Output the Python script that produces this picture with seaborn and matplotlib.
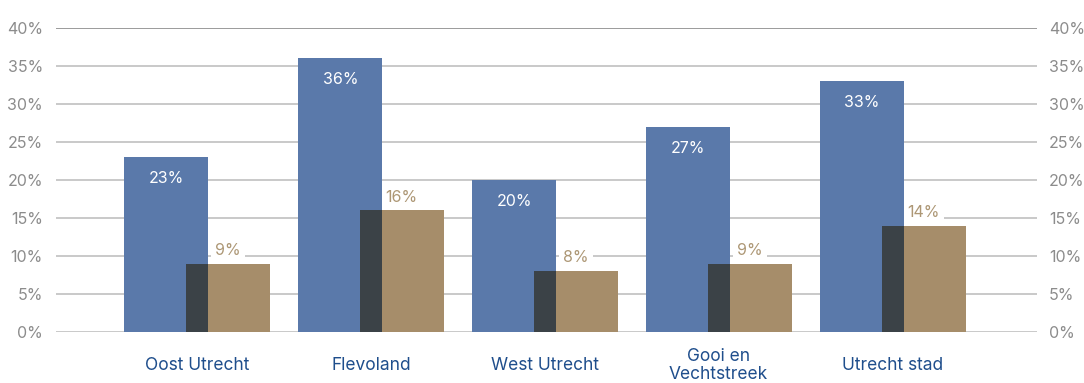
import pandas as pd
import matplotlib.pyplot as plt
import seaborn as sns

# data
regions = ['Oost Utrecht', 'Flevoland', 'West Utrecht', 'Gooi en\nVechtstreek', 'Utrecht stad']
share_a = [23, 36, 20, 27, 33]
share_b = [9, 16, 8, 9, 14]
yticks = [0, 5, 10, 15, 20, 25, 30, 35, 40]

blue = '#5a79aa'
tan = '#a68d6a'
dark = '#3b4247'

sns.set_style('white')
plt.rcParams['font.family'] = ['Inter', 'DejaVu Sans']

df = pd.DataFrame({'region': regions, 'a': share_a, 'b': share_b})

fig = plt.figure(figsize=(10.84, 3.83), dpi=100)
ax = fig.add_axes([0.0517, 0.1332, 0.9049, 0.7937])

bw = 0.483
off_a = -0.175
off_b = 0.178

sns.barplot(data=df, x='region', y='a', color=blue, width=bw, saturation=1, ax=ax,
            zorder=2, linewidth=0)
n = len(ax.patches)
for p in ax.patches[:n]:
    p.set_x(p.get_x() + off_a)
sns.barplot(data=df, x='region', y='b', color=tan, width=bw, saturation=1, ax=ax,
            zorder=2, linewidth=0)
for p in ax.patches[n:]:
    p.set_x(p.get_x() + off_b)
# overlapping part of both bars
ov_left = off_b - bw / 2
ov_right = off_a + bw / 2
df['ov'] = [min(a, b) for a, b in zip(share_a, share_b)]
m = len(ax.patches)
sns.barplot(data=df, x='region', y='ov', color=dark, width=ov_right - ov_left,
            saturation=1, ax=ax, zorder=3, linewidth=0)
for p in ax.patches[m:]:
    p.set_x(p.get_x() + (ov_left + ov_right) / 2)

for i, (a, b) in enumerate(zip(share_a, share_b)):
    ax.text(i + off_a, a - 2.8, f'{a}%', ha='center', va='center', color='white',
            fontsize=11.5, zorder=4)
    # white box breaks the gridline, but stays under the bars
    ax.text(i + off_b, b + 1.75, f'{b}%', ha='center', va='center', color='#ad9775',
            fontsize=11.5, zorder=1.5, bbox=dict(facecolor='white', edgecolor='none', pad=3))

ax.set_ylim(0, 40)
ax.set_xlim(-0.81, 4.83)
ax.set_yticks(yticks)
ax.set_yticklabels([f'{t}%' for t in yticks])
for t in yticks:
    ax.axhline(t, color='#8a8a8a' if t == 40 else '#c0c0c0', lw=1.2, zorder=1)
ax.tick_params(axis='y', length=0, pad=9.5, labelcolor='#8c8c8c', labelsize=11.5)
ax.tick_params(axis='x', length=0, pad=24, labelcolor='#1f4e8c', labelsize=12.5)
for lab in ax.get_xticklabels():
    lab.set_va('center')
    lab.set_linespacing(1.1)
ax.set_xlabel('')
ax.set_ylabel('')
sns.despine(ax=ax, left=True, bottom=True)

ax2 = ax.twinx()
ax2.set_ylim(0, 40)
ax2.set_yticks(yticks)
ax2.set_yticklabels([f'{t}%' for t in yticks])
ax2.tick_params(axis='y', length=0, pad=8.5, labelcolor='#8c8c8c', labelsize=11.5)
sns.despine(ax=ax2, left=True, bottom=True, right=True)

fig.savefig('out.png', dpi=100)
